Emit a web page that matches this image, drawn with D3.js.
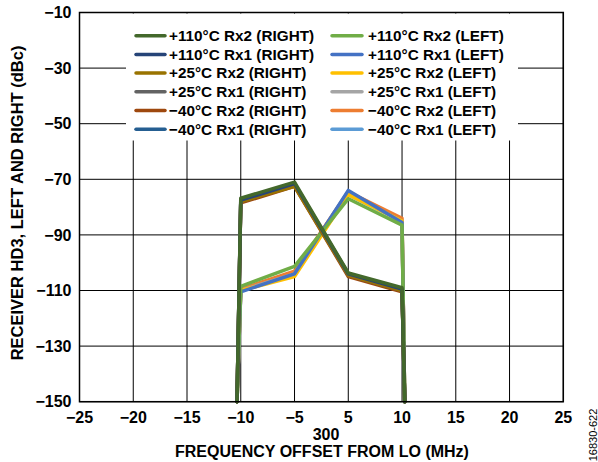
<!DOCTYPE html>
<html>
<head>
<meta charset="utf-8">
<script src="https://cdn.jsdelivr.net/npm/d3@7"></script>
<style>
  body { margin: 0; background: #fff; }
  svg text { font-family: Arial, "Liberation Sans", sans-serif; font-weight: bold; fill: #000; }
</style>
</head>
<body>
<svg id="chart" width="598" height="462"></svg>
<script>
"use strict";

// x categories (MHz offset), y ticks (dBc)
const xTicks = [-25, -20, -15, -10, -5, 5, 10, 15, 20, 25];
const yTicks = [-10, -30, -50, -70, -90, -110, -130, -150];

// frequency points of every trace, the outer two are the band edges
const freqs = [-10.35, -10, -5, 5, 10, 10.25];

const seriesNames = [
   "\u221240°C Rx1 (LEFT)", "\u221240°C Rx2 (LEFT)", "+25°C Rx1 (LEFT)",
   "+25°C Rx2 (LEFT)", "+110°C Rx1 (LEFT)", "+110°C Rx2 (LEFT)",
   "\u221240°C Rx1 (RIGHT)", "\u221240°C Rx2 (RIGHT)", "+25°C Rx1 (RIGHT)",
   "+25°C Rx2 (RIGHT)", "+110°C Rx1 (RIGHT)", "+110°C Rx2 (RIGHT)"
];
const seriesColors = [
   "#5b9bd5", "#ed7d31", "#a5a5a5", "#ffc000", "#4472c4", "#70ad47",
   "#255e91", "#9e480e", "#636363", "#997300", "#264478", "#43682b"
];
// HD3 (dBc) at freqs, one row per series
const hd3 = [
   [-150, -110, -103.5, -74.5, -85, -150],
   [-150, -109.5, -103, -74.5, -84, -150],
   [-150, -110, -104, -75.5, -85, -150],
   [-150, -110, -105, -75.5, -85, -150],
   [-150, -110.5, -104, -74, -85.5, -150],
   [-150, -108.5, -101.3, -77, -86.5, -150],
   [-150, -78, -72, -104, -110, -150],
   [-150, -78.5, -72.5, -105, -110.5, -150],
   [-150, -78, -72, -104.5, -110, -150],
   [-150, -78, -72.5, -104.5, -110, -150],
   [-150, -77.5, -71.5, -104, -109.5, -150],
   [-150, -76.8, -71, -103.7, -109, -150]
];

const svg = d3.select("#chart");
const pLeft = 79.5, pRight = 563.3, pTop = 12.5, pBottom = 401.7;
const step = (pRight - pLeft) / (xTicks.length - 1);

// category axis: equal spacing, piecewise linear between the labels
const x = d3.scaleLinear()
   .domain(xTicks)
   .range(xTicks.map((d, i) => pLeft + i * step));
const y = d3.scaleLinear().domain([-150, -10]).range([pBottom, pTop]);

const fmt = d => d < 0 ? "\u2212" + Math.abs(d) : "" + d;

// grid
svg.append("g")
   .selectAll("line")
   .data(xTicks)
   .join("line")
   .attr("x1", d => x(d)).attr("x2", d => x(d))
   .attr("y1", pTop).attr("y2", pBottom)
   .attr("stroke", "#000").attr("stroke-width", 1);

svg.append("g")
   .selectAll("line")
   .data(yTicks)
   .join("line")
   .attr("x1", pLeft).attr("x2", pRight)
   .attr("y1", d => y(d)).attr("y2", d => y(d))
   .attr("stroke", "#000").attr("stroke-width", 1);

// legend box hides the grid behind it
svg.append("rect")
   .attr("x", 126).attr("y", pTop + 1)
   .attr("width", 392).attr("height", 127)
   .attr("fill", "#fff");

// traces
const line = d3.line()
   .x((d, i) => x(freqs[i]))
   .y(d => y(d));

svg.append("g")
   .selectAll("path")
   .data(hd3)
   .join("path")
   .attr("d", line)
   .attr("fill", "none")
   .attr("stroke", (d, i) => seriesColors[i])
   .attr("stroke-width", 3.5)
   .attr("stroke-linejoin", "round")
   .attr("stroke-linecap", "round");

// frame
svg.append("rect")
   .attr("x", pLeft).attr("y", pTop)
   .attr("width", pRight - pLeft).attr("height", pBottom - pTop)
   .attr("fill", "none").attr("stroke", "#000").attr("stroke-width", 1.5);

// tick labels
svg.append("g")
   .selectAll("text")
   .data(yTicks)
   .join("text")
   .attr("x", pLeft - 8)
   .attr("y", d => y(d))
   .attr("dy", "0.35em")
   .attr("text-anchor", "end")
   .attr("font-size", 16)
   .text(fmt);

svg.append("g")
   .selectAll("text")
   .data(xTicks)
   .join("text")
   .attr("x", d => x(d))
   .attr("y", 417)
   .attr("dy", "0.35em")
   .attr("text-anchor", "middle")
   .attr("font-size", 16)
   .text(fmt);

svg.append("text")
   .attr("x", 326).attr("y", 434)
   .attr("dy", "0.35em")
   .attr("text-anchor", "middle")
   .attr("font-size", 16)
   .text("300");

svg.append("text")
   .attr("x", 322).attr("y", 451)
   .attr("dy", "0.35em")
   .attr("text-anchor", "middle")
   .attr("font-size", 16)
   .text("FREQUENCY OFFSET FROM LO (MHz)");

svg.append("text")
   .attr("transform", "translate(17,203) rotate(-90)")
   .attr("dy", "0.35em")
   .attr("text-anchor", "middle")
   .attr("font-size", 16.5)
   .text("RECEIVER HD3, LEFT AND RIGHT (dBc)");

svg.append("text")
   .attr("transform", "translate(593,435) rotate(-90)")
   .attr("dy", "0.35em")
   .attr("text-anchor", "middle")
   .attr("font-size", 11)
   .style("font-weight", "normal")
   .text("16830-622");

// legend: left column RIGHT traces, right column LEFT traces
const legendRows = [0, 1, 2, 3, 4, 5];
const legend = svg.append("g");
legendRows.forEach(r => {
   const ry = 35.7 + r * 18.7;
   [[11 - r, 136, 165, 169], [5 - r, 332, 362, 368]].forEach(([s, x1, x2, tx]) => {
      legend.append("line")
         .attr("x1", x1).attr("x2", x2)
         .attr("y1", ry).attr("y2", ry)
         .attr("stroke", seriesColors[s])
         .attr("stroke-width", 3.5)
         .attr("stroke-linecap", "round");
      legend.append("text")
         .attr("x", tx).attr("y", ry)
         .attr("dy", "0.35em")
         .attr("font-size", 15.3)
         .text(seriesNames[s]);
   });
});
</script>
</body>
</html>
